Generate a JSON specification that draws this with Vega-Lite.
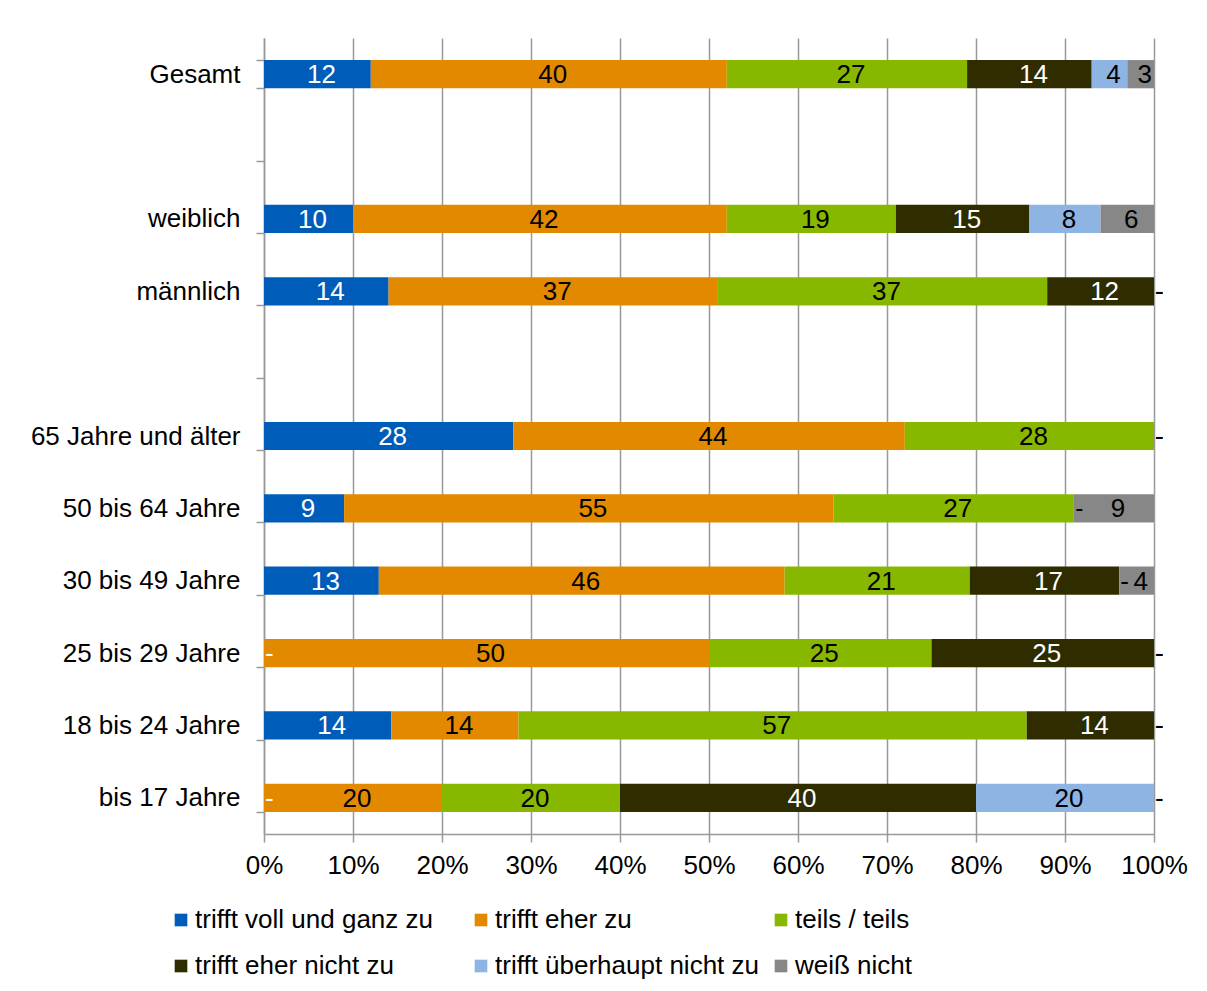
{
  "$schema": "https://vega.github.io/schema/vega-lite/v6.json",
  "width": 890,
  "height": 796,
  "autosize": {"type": "none"},
  "padding": {"left": 264, "top": 38, "right": 53, "bottom": 157},
  "config": {"view": {"stroke": null}, "font": "Liberation Sans", "background": "white"},
  "data": {
    "values": [
      {"g": "Gesamt", "c": "trifft voll und ganz zu", "v": 12, "o": 1},
      {"g": "Gesamt", "c": "trifft eher zu", "v": 40, "o": 2},
      {"g": "Gesamt", "c": "teils / teils", "v": 27, "o": 3},
      {"g": "Gesamt", "c": "trifft eher nicht zu", "v": 14, "o": 4},
      {"g": "Gesamt", "c": "trifft überhaupt nicht zu", "v": 4, "o": 5},
      {"g": "Gesamt", "c": "weiß nicht", "v": 3, "o": 6},
      {"g": "weiblich", "c": "trifft voll und ganz zu", "v": 10, "o": 1},
      {"g": "weiblich", "c": "trifft eher zu", "v": 42, "o": 2},
      {"g": "weiblich", "c": "teils / teils", "v": 19, "o": 3},
      {"g": "weiblich", "c": "trifft eher nicht zu", "v": 15, "o": 4},
      {"g": "weiblich", "c": "trifft überhaupt nicht zu", "v": 8, "o": 5},
      {"g": "weiblich", "c": "weiß nicht", "v": 6, "o": 6},
      {"g": "männlich", "c": "trifft voll und ganz zu", "v": 14, "o": 1},
      {"g": "männlich", "c": "trifft eher zu", "v": 37, "o": 2},
      {"g": "männlich", "c": "teils / teils", "v": 37, "o": 3},
      {"g": "männlich", "c": "trifft eher nicht zu", "v": 12, "o": 4},
      {"g": "männlich", "c": "trifft überhaupt nicht zu", "v": 0, "o": 5},
      {"g": "männlich", "c": "weiß nicht", "v": 0, "o": 6},
      {"g": "65 Jahre und älter", "c": "trifft voll und ganz zu", "v": 28, "o": 1},
      {"g": "65 Jahre und älter", "c": "trifft eher zu", "v": 44, "o": 2},
      {"g": "65 Jahre und älter", "c": "teils / teils", "v": 28, "o": 3},
      {"g": "65 Jahre und älter", "c": "trifft eher nicht zu", "v": 0, "o": 4},
      {"g": "65 Jahre und älter", "c": "trifft überhaupt nicht zu", "v": 0, "o": 5},
      {"g": "65 Jahre und älter", "c": "weiß nicht", "v": 0, "o": 6},
      {"g": "50 bis 64 Jahre", "c": "trifft voll und ganz zu", "v": 9, "o": 1},
      {"g": "50 bis 64 Jahre", "c": "trifft eher zu", "v": 55, "o": 2},
      {"g": "50 bis 64 Jahre", "c": "teils / teils", "v": 27, "o": 3},
      {"g": "50 bis 64 Jahre", "c": "trifft eher nicht zu", "v": 0, "o": 4},
      {"g": "50 bis 64 Jahre", "c": "trifft überhaupt nicht zu", "v": 0, "o": 5},
      {"g": "50 bis 64 Jahre", "c": "weiß nicht", "v": 9, "o": 6},
      {"g": "30 bis 49 Jahre", "c": "trifft voll und ganz zu", "v": 12.9, "o": 1},
      {"g": "30 bis 49 Jahre", "c": "trifft eher zu", "v": 45.6, "o": 2},
      {"g": "30 bis 49 Jahre", "c": "teils / teils", "v": 20.8, "o": 3},
      {"g": "30 bis 49 Jahre", "c": "trifft eher nicht zu", "v": 16.8, "o": 4},
      {"g": "30 bis 49 Jahre", "c": "trifft überhaupt nicht zu", "v": 0, "o": 5},
      {"g": "30 bis 49 Jahre", "c": "weiß nicht", "v": 3.9, "o": 6},
      {"g": "25 bis 29 Jahre", "c": "trifft voll und ganz zu", "v": 0, "o": 1},
      {"g": "25 bis 29 Jahre", "c": "trifft eher zu", "v": 50, "o": 2},
      {"g": "25 bis 29 Jahre", "c": "teils / teils", "v": 25, "o": 3},
      {"g": "25 bis 29 Jahre", "c": "trifft eher nicht zu", "v": 25, "o": 4},
      {"g": "25 bis 29 Jahre", "c": "trifft überhaupt nicht zu", "v": 0, "o": 5},
      {"g": "25 bis 29 Jahre", "c": "weiß nicht", "v": 0, "o": 6},
      {"g": "18 bis 24 Jahre", "c": "trifft voll und ganz zu", "v": 14.3, "o": 1},
      {"g": "18 bis 24 Jahre", "c": "trifft eher zu", "v": 14.3, "o": 2},
      {"g": "18 bis 24 Jahre", "c": "teils / teils", "v": 57.1, "o": 3},
      {"g": "18 bis 24 Jahre", "c": "trifft eher nicht zu", "v": 14.3, "o": 4},
      {"g": "18 bis 24 Jahre", "c": "trifft überhaupt nicht zu", "v": 0, "o": 5},
      {"g": "18 bis 24 Jahre", "c": "weiß nicht", "v": 0, "o": 6},
      {"g": "bis 17 Jahre", "c": "trifft voll und ganz zu", "v": 0, "o": 1},
      {"g": "bis 17 Jahre", "c": "trifft eher zu", "v": 20, "o": 2},
      {"g": "bis 17 Jahre", "c": "teils / teils", "v": 20, "o": 3},
      {"g": "bis 17 Jahre", "c": "trifft eher nicht zu", "v": 40, "o": 4},
      {"g": "bis 17 Jahre", "c": "trifft überhaupt nicht zu", "v": 20, "o": 5},
      {"g": "bis 17 Jahre", "c": "weiß nicht", "v": 0, "o": 6}
    ]
  },
  "encoding": {
    "y": {
      "field": "g",
      "type": "nominal",
      "scale": {
        "domain": ["Gesamt", " ", "weiblich", "männlich", "  ", "65 Jahre und älter", "50 bis 64 Jahre", "30 bis 49 Jahre", "25 bis 29 Jahre", "18 bis 24 Jahre", "bis 17 Jahre"],
        "paddingInner": 0.61,
        "paddingOuter": 0.305
      },
      "axis": {
        "title": null,
        "tickBand": "extent",
        "tickSize": 8,
        "tickColor": "#999999",
        "tickWidth": 1.5,
        "domainColor": "#999999",
        "domainWidth": 1.5,
        "labelFontSize": 26,
        "labelPadding": 16,
        "labelColor": "black",
        "labelLimit": 400,
        "grid": false
      }
    }
  },
  "layer": [
    {
      "mark": {"type": "bar"},
      "encoding": {
        "x": {
          "field": "v",
          "type": "quantitative",
          "stack": "zero",
          "scale": {"domain": [0, 100], "nice": false},
          "axis": {
            "values": [0, 10, 20, 30, 40, 50, 60, 70, 80, 90, 100],
            "labelExpr": "datum.value + '%'",
            "title": null,
            "grid": true,
            "gridColor": "#999999",
            "gridWidth": 1.5,
            "domainColor": "#999999",
            "domainWidth": 1.5,
            "tickColor": "#999999",
            "tickWidth": 1.5,
            "tickSize": 8,
            "labelFontSize": 26,
            "labelColor": "black",
            "labelPadding": 10,
            "labelFlush": false
          }
        },
        "color": {
          "field": "c",
          "type": "nominal",
          "scale": {
            "domain": ["trifft voll und ganz zu", "trifft eher zu", "teils / teils", "trifft eher nicht zu", "trifft überhaupt nicht zu", "weiß nicht"],
            "range": ["#005CB9", "#E28900", "#88B700", "#2F2C00", "#8DB4E3", "#878787"]
          },
          "legend": {
            "orient": "none",
            "legendX": -96,
            "legendY": 869,
            "direction": "horizontal",
            "columns": 3,
            "gridAlign": "all",
            "title": null,
            "symbolType": "square",
            "symbolSize": 160,
            "symbolStrokeWidth": 0,
            "labelFontSize": 26,
            "labelColor": "black",
            "labelOffset": 1,
            "columnPadding": 8,
            "rowPadding": 20,
            "labelLimit": 400,
            "padding": 0
          }
        },
        "order": {"field": "o", "type": "quantitative"}
      }
    },
    {
      "mark": {"type": "text", "fontSize": 26, "baseline": "middle", "align": "center", "dx": 4, "dy": 1},
      "encoding": {
        "x": {"field": "v", "type": "quantitative", "stack": "zero", "bandPosition": 0.5},
        "detail": {"field": "c"},
        "order": {"field": "o", "type": "quantitative"},
        "text": {"field": "v", "type": "quantitative", "format": ".0f"},
        "color": {
          "condition": {"test": "datum.c == 'trifft voll und ganz zu' || datum.c == 'trifft eher nicht zu'", "value": "white"},
          "value": "black"
        },
        "opacity": {"condition": {"test": "datum.v == 0", "value": 0}, "value": 1}
      }
    },
    {
      "mark": {"type": "text", "fontSize": 26, "baseline": "middle", "align": "left", "dx": 1, "dy": 1},
      "encoding": {
        "x": {"field": "v", "type": "quantitative", "stack": "zero", "bandPosition": 0.5},
        "detail": {"field": "c"},
        "order": {"field": "o", "type": "quantitative"},
        "text": {"value": "-"},
        "color": {
          "condition": {"test": "datum.c == 'trifft voll und ganz zu' || datum.c == 'trifft eher nicht zu'", "value": "white"},
          "value": "black"
        },
        "opacity": {"condition": {"test": "datum.v > 0", "value": 0}, "value": 1}
      }
    }
  ]
}
